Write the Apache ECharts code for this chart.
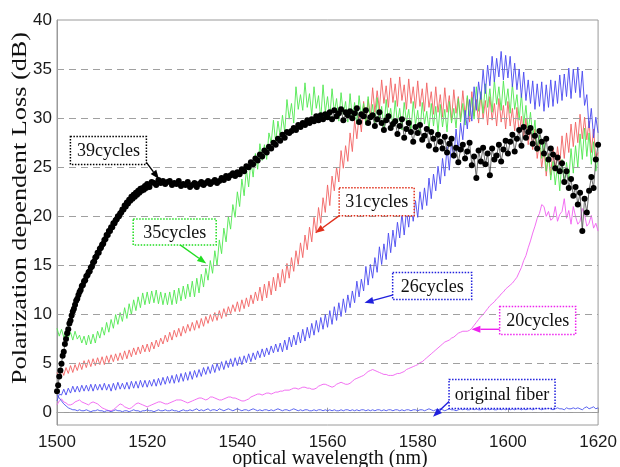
<!DOCTYPE html>
<html><head><meta charset="utf-8">
<script src="https://cdn.jsdelivr.net/npm/echarts@6/dist/echarts.min.js"></script>
<style>html,body{margin:0;padding:0;background:#fff}#c{width:620px;height:467px}</style>
</head><body><div id="c"></div>
<script>
// wavelength sampling grid (nm)
const wlStart = 1500, wlStep = 0.5;
const riseStart = 1500, riseStep = 0.25;   // finer sampling of the 39-cycle rise
const plateauStart = 1520;
const xTicks = [1500, 1520, 1540, 1560, 1580, 1600, 1620];
const yTicks = [0, 5, 10, 15, 20, 25, 30, 35, 40];

// PDL (dB) sampled every 0.5 nm from 1500 to 1620
const pdl35 = [8.6,7.8,8.5,7.7,8.4,7.6,8.2,7.4,8.3,7.5,
7.9,7.1,7.8,6.9,7.9,7.0,8.0,7.1,8.3,7.6,
8.7,7.9,9.2,8.2,9.5,8.6,10.0,9.0,10.2,9.3,
10.7,9.6,11.1,10.0,11.5,10.4,11.8,10.7,12.2,11.0,
12.3,11.1,12.4,11.2,12.5,11.1,12.3,11.0,12.2,11.0,
12.3,11.0,12.5,11.1,12.7,11.4,12.9,11.6,13.1,11.8,
13.4,11.8,13.7,12.2,14.1,12.8,14.7,13.5,15.5,14.2,
16.5,15.0,17.6,16.2,18.8,17.4,20.0,18.7,21.2,19.9,
22.5,21.0,23.8,22.1,24.8,23.0,25.7,24.0,26.4,24.8,
27.4,25.7,27.3,25.8,28.5,27.5,29.8,27.5,29.7,28.1,
30.3,28.6,31.9,29.9,31.5,29.5,33.2,30.9,32.4,30.8,
33.6,31.1,32.5,30.3,33.2,31.0,32.3,29.9,33.4,30.6,
32.2,30.1,33.0,30.6,32.0,29.7,32.6,30.4,31.7,29.6,
32.5,29.9,31.6,29.4,32.3,30.2,31.5,29.3,32.2,29.8,
31.4,29.2,32.1,29.9,31.2,28.9,31.9,29.7,31.0,29.1,
31.8,29.5,31.0,28.8,31.6,29.6,30.9,28.7,31.7,29.3,
30.8,28.6,31.6,29.4,30.7,28.8,31.5,29.2,31.2,28.5,
31.4,29.1,30.9,28.6,31.7,29.5,31.0,29.0,32.0,29.6,
31.5,29.3,32.3,30.2,32.1,29.9,33.2,30.7,32.7,30.5,
33.5,31.1,33.0,30.6,33.9,31.4,33.2,30.8,33.8,31.3,
33.0,30.5,33.5,30.9,32.4,29.8,32.5,29.4,31.3,28.6,
30.6,28.0,29.8,26.6,28.3,25.9,27.8,24.6,26.3,23.7,
25.6,23.2,25.2,22.6,25.8,23.4,25.5,23.7,26.9,24.4,
27.2,25.0,28.4,25.8,29.0,26.1,28.5,25.3,27.6,24.6,
26.0];

const pdl31 = [4.1,3.5,4.4,3.8,4.6,4.0,4.8,4.1,4.9,4.3,
5.1,4.4,5.3,4.6,5.4,4.7,5.5,4.8,5.6,4.9,
5.7,4.9,5.8,5.1,5.9,5.2,6.0,5.3,6.1,5.4,
6.3,5.5,6.4,5.7,6.6,5.9,6.7,6.0,6.9,6.2,
7.0,6.2,7.2,6.5,7.4,6.7,7.6,7.0,7.9,7.2,
8.2,7.4,8.4,7.7,8.6,7.8,8.8,8.1,9.0,8.3,
9.2,8.4,9.4,8.6,9.6,8.8,9.8,9.1,10.0,9.3,
10.2,9.4,10.4,9.6,10.6,9.8,10.8,10.1,11.0,10.3,
11.3,10.3,11.5,10.6,11.7,10.8,12.0,11.1,12.3,11.4,
12.8,11.4,13.1,11.7,13.4,12.0,13.8,12.4,14.2,12.8,
14.6,13.2,15.2,13.7,15.8,14.4,16.5,15.1,17.3,15.8,
18.1,16.6,18.9,17.4,19.9,18.3,20.9,19.3,21.9,20.4,
23.2,21.1,24.1,22.6,25.0,23.5,26.7,24.9,27.2,25.6,
28.5,26.6,29.8,27.9,30.3,28.6,31.7,29.4,31.9,30.1,
33.1,30.6,32.8,30.9,33.9,31.5,33.3,31.1,34.1,31.6,
33.5,31.2,34.2,31.8,33.4,30.9,34.0,31.5,33.2,31.0,
33.8,31.2,33.0,30.7,33.6,31.1,32.7,30.4,33.2,30.6,
32.4,30.1,33.1,30.6,32.3,29.8,32.9,30.5,32.2,29.9,
32.8,30.3,32.1,29.6,32.7,30.2,31.9,29.5,32.5,29.9,
31.8,29.3,32.2,29.8,31.5,29.2,32.0,29.6,31.3,28.9,
31.7,29.2,31.0,28.7,31.1,28.4,30.2,28.0,30.0,27.3,
29.1,26.8,28.9,25.9,27.6,24.9,26.9,24.1,26.4,24.2,
26.9,24.6,27.1,25.3,28.2,25.9,28.5,26.5,29.4,27.1,
29.6,27.5,30.4,27.9,30.1,27.8,29.7,26.5,28.9,25.8,
26.5];

const pdl26 = [1.2,1.9,1.8,2.4,1.8,2.5,2.0,2.7,2.1,2.7,
2.1,2.8,2.2,2.8,2.2,2.9,2.2,2.9,2.3,2.9,
2.3,3.0,2.3,2.9,2.2,3.0,2.3,3.1,2.4,3.0,
2.4,3.1,2.4,3.2,2.5,3.2,2.5,3.3,2.6,3.3,
2.6,3.3,2.7,3.4,2.7,3.5,2.8,3.6,2.9,3.7,
3.0,3.8,3.0,3.9,3.1,4.0,3.2,4.1,3.3,4.2,
3.4,4.3,3.6,4.4,3.7,4.6,3.9,4.7,4.0,4.9,
4.1,5.0,4.3,5.2,4.4,5.3,4.6,5.5,4.7,5.6,
4.8,5.7,4.9,5.8,5.1,6.0,5.2,6.1,5.4,6.3,
5.6,6.5,5.7,6.6,5.9,6.8,6.1,7.0,6.2,7.1,
6.2,7.4,6.4,7.7,6.7,7.9,6.9,8.2,7.1,8.5,
7.3,8.7,7.6,9.1,7.9,9.4,8.2,9.7,8.5,10.0,
8.7,10.4,9.0,10.8,9.4,11.2,9.8,11.6,10.2,12.0,
10.7,12.4,11.2,13.4,11.8,13.6,12.4,14.9,13.0,15.1,
13.7,15.8,14.3,16.9,15.1,17.2,15.6,18.3,16.3,18.6,
16.9,19.4,17.8,20.3,18.1,20.6,18.9,21.4,19.5,21.6,
19.9,22.5,20.7,22.9,21.1,23.9,21.8,24.3,22.6,25.1,
23.3,25.9,24.1,27.1,24.7,27.6,25.9,28.9,26.6,29.5,
27.8,30.8,28.9,31.9,29.7,33.2,30.8,33.7,31.9,34.9,
32.5,35.4,33.3,36.3,33.7,36.1,34.2,36.8,33.9,36.4,
34.1,36.3,33.2,35.6,32.9,35.0,32.1,34.7,31.8,33.9,
31.5,33.8,30.9,33.5,31.2,33.7,30.7,33.4,31.1,33.9,
31.2,33.8,31.5,34.4,31.8,34.5,32.2,35.1,32.0,35.0,
32.6,35.2,32.1,34.8,31.3,32.4,29.0,31.0,28.0,30.1,
28.5];

const pdl20 = [0.8,1.2,1.4,1.1,1.0,0.8,0.8,0.9,1.1,1.2,
1.3,1.1,1.0,0.9,0.8,1.0,1.1,1.0,0.9,0.7,
0.5,0.4,0.3,0.2,0.2,0.3,0.5,0.7,0.9,0.8,
0.6,0.5,0.4,0.5,0.7,0.9,1.0,0.9,0.8,0.7,
0.6,0.7,0.8,0.9,1.0,1.1,1.1,1.0,0.9,0.9,
1.0,1.1,1.2,1.3,1.3,1.3,1.2,1.1,1.0,1.1,
1.2,1.3,1.4,1.5,1.5,1.4,1.3,1.4,1.6,1.6,
1.5,1.4,1.3,1.3,1.4,1.5,1.6,1.6,1.5,1.5,
1.4,1.3,1.2,1.2,1.3,1.4,1.6,1.7,1.8,1.9,
1.9,1.8,1.9,2.0,2.0,1.9,2.0,2.1,2.1,2.2,
2.2,2.3,2.3,2.3,2.4,2.5,2.5,2.4,2.5,2.6,
2.6,2.5,2.5,2.4,2.4,2.5,2.7,2.8,2.9,2.9,
2.8,2.7,2.6,2.7,2.9,3.0,3.1,3.0,2.9,2.9,
3.0,3.2,3.4,3.5,3.6,3.7,3.8,4.0,4.2,4.3,
4.4,4.3,4.2,4.1,4.0,3.9,3.9,3.8,3.8,3.8,
3.9,4.0,4.0,4.1,4.2,4.4,4.5,4.6,4.7,4.8,
4.9,5.1,5.2,5.4,5.6,5.8,6.0,6.2,6.4,6.6,
6.8,7.0,7.2,7.3,7.4,7.6,7.7,7.9,8.1,8.2,
8.3,8.3,8.3,8.4,8.6,8.9,9.2,9.5,9.8,10.0,
10.3,10.6,10.9,11.1,11.3,11.6,11.8,12.1,12.3,12.6,
12.8,13.0,13.2,13.5,13.8,14.3,14.8,15.5,16.0,16.8,
17.5,18.3,19.0,19.8,20.3,21.2,21.0,20.0,20.5,19.6,
19.8,21.0,19.5,20.2,20.5,21.8,19.8,20.6,19.2,21.0,
20.0,19.2,19.5,20.8,20.2,19.0,19.3,20.1,18.8,19.3,
18.5];

const pdlOriginal = [1.8,1.5,1.2,0.9,0.7,0.5,0.4,0.3,0.3,0.2,
0.3,0.2,0.2,0.3,0.2,0.1,0.2,0.2,0.3,0.2,
0.2,0.1,0.2,0.2,0.1,0.2,0.3,0.2,0.2,0.1,
0.2,0.2,0.1,0.2,0.3,0.2,0.2,0.1,0.2,0.2,
0.3,0.2,0.2,0.1,0.2,0.3,0.2,0.2,0.3,0.2,
0.2,0.3,0.2,0.2,0.1,0.2,0.3,0.2,0.2,0.3,
0.2,0.3,0.4,0.2,0.3,0.2,0.3,0.4,0.2,0.3,
0.3,0.2,0.4,0.3,0.2,0.3,0.4,0.3,0.2,0.3,
0.4,0.3,0.2,0.3,0.3,0.2,0.3,0.4,0.3,0.2,
0.3,0.2,0.3,0.3,0.2,0.3,0.2,0.3,0.4,0.3,
0.2,0.3,0.3,0.2,0.3,0.4,0.3,0.2,0.3,0.2,
0.3,0.3,0.2,0.2,0.3,0.2,0.3,0.3,0.2,0.3,
0.2,0.3,0.2,0.3,0.2,0.2,0.3,0.2,0.3,0.3,
0.2,0.3,0.2,0.3,0.2,0.3,0.3,0.2,0.3,0.2,
0.3,0.2,0.3,0.3,0.2,0.3,0.2,0.3,0.3,0.2,
0.3,0.3,0.2,0.3,0.2,0.3,0.3,0.2,0.3,0.3,
0.2,0.3,0.3,0.2,0.3,0.4,0.3,0.2,0.3,0.3,
0.4,0.3,0.2,0.3,0.4,0.3,0.3,0.2,0.3,0.4,
0.3,0.4,0.3,0.3,0.4,0.3,0.4,0.3,0.3,0.4,
0.3,0.4,0.3,0.4,0.3,0.3,0.4,0.3,0.4,0.3,
0.4,0.3,0.4,0.3,0.4,0.4,0.3,0.4,0.3,0.4,
0.4,0.3,0.4,0.5,0.4,0.3,0.4,0.4,0.5,0.4,
0.3,0.4,0.5,0.4,0.4,0.3,0.5,0.4,0.4,0.5,
0.4,0.5,0.4,0.3,0.5,0.6,0.4,0.5,0.6,0.4,
0.5];

// 39 cycles: rise sampled every 0.25 nm (1500 - 1519.75)
const pdl39Rise = [2.2,2.8,3.7,4.3,5.0,5.8,6.2,7.0,7.5,8.1,8.5,9.1,9.4,9.9,10.3,10.6,11.0,11.4,11.6,12.0,
12.3,12.5,12.9,13.0,13.4,13.5,13.9,14.0,14.3,14.4,14.8,14.9,15.3,15.4,15.8,15.9,16.3,16.3,16.7,16.8,
17.1,17.2,17.6,17.7,18.1,18.1,18.5,18.5,18.9,18.9,19.3,19.3,19.6,19.7,20.0,20.0,20.3,20.4,20.7,20.7,
21.1,21.0,21.4,21.3,21.7,21.6,22.0,21.8,22.2,22.0,22.4,22.2,22.6,22.4,22.8,22.6,22.9,22.7,23.1,22.9];
// 39 cycles: plateau and beyond, sampled every 0.5 nm (1520 - 1620)
const pdl39 = [23.3,23.0,23.5,23.4,23.2,23.7,23.4,23.6,23.3,23.5,
23.6,23.2,23.4,23.3,23.6,23.1,23.3,23.2,23.5,23.0,
23.2,23.4,23.0,23.3,23.5,23.2,23.4,23.6,23.3,23.5,
23.7,23.4,23.6,23.9,23.7,24.1,23.9,24.2,24.4,24.1,
24.5,24.3,24.8,24.6,25.1,25.0,25.5,25.3,25.9,25.7,
26.3,26.1,26.7,26.5,27.1,26.9,27.5,27.3,27.9,27.7,
28.3,28.0,28.6,28.5,28.7,29.0,28.8,29.3,29.1,29.5,
29.3,29.8,29.5,29.9,29.7,30.2,29.8,30.3,29.9,30.4,
30.1,30.6,29.9,30.8,30.2,30.5,30.9,29.8,30.6,30.3,
30.7,30.0,30.5,31.0,29.6,30.4,30.2,30.8,29.5,30.1,
30.3,29.2,29.9,30.6,29.5,28.8,29.8,30.2,29.0,29.4,
29.7,28.4,29.2,29.9,28.0,28.9,29.5,28.6,27.6,29.1,
28.5,29.3,27.8,28.2,28.9,27.2,28.6,27.9,26.8,28.3,
27.6,26.9,28.1,26.5,27.4,27.9,26.2,27.0,25.5,26.8,
27.3,25.9,26.6,27.5,25.2,26.1,23.9,26.7,25.6,27.0,
25.3,26.4,24.2,26.9,25.8,26.2,27.3,25.6,26.8,27.7,
26.4,27.6,28.3,26.6,27.9,28.8,27.2,29.1,28.0,28.6,
29.0,27.4,28.2,26.9,28.7,27.6,26.4,27.9,25.8,26.9,
26.3,24.9,26.0,24.6,25.4,23.5,24.6,22.9,23.8,22.1,
23.0,21.2,22.4,18.5,21.8,20.4,22.6,24.0,22.9,25.8,
27.3];

// annotations: label, colour, box centre (nm, dB), arrow start, arrow tip
const annotations = [
  {text: '39cycles', color: '#000000', box: [1511.4, 26.7], from: [1519.3, 25.8], to: [1522.6, 23.8], w: 76, h: 28},
  {text: '35cycles', color: '#22dd22', box: [1526.1, 18.4], from: [1527.0, 17.2], to: [1533.1, 15.2], w: 83, h: 26},
  {text: '31cycles', color: '#e0301c', box: [1570.9, 21.5], from: [1562.7, 20.1], to: [1557.3, 18.3], w: 75, h: 28},
  {text: '26cycles', color: '#2020dd', box: [1583.2, 12.9], from: [1574.6, 12.0], to: [1568.2, 11.2], w: 79, h: 27},
  {text: '20cycles', color: '#ee22ee', box: [1606.6, 9.4], from: [1598.5, 8.5], to: [1591.9, 8.5], w: 76, h: 28},
  {text: 'original fiber', color: '#2020dd', box: [1598.7, 1.9], from: [1587.3, 1.3], to: [1583.4, -0.4], w: 106, h: 29}
];

function toPairs(vals, start, step) {
  return vals.map((v, i) => [start + i * step, v]);
}
const black = toPairs(pdl39Rise, riseStart, riseStep).concat(toPairs(pdl39, plateauStart, wlStep));

const chart = echarts.init(document.getElementById('c'), null, {renderer: 'canvas'});

function lineSeries(name, vals, color, z) {
  return {
    name, type: 'line', data: toPairs(vals, wlStart, wlStep), showSymbol: false, symbol: 'none',
    lineStyle: {color, width: 0.9}, z, animation: false, silent: true
  };
}

const option = {
  animation: false,
  backgroundColor: '#fff',
  grid: {left: 57, right: 18, top: 20, bottom: 42, show: true, borderColor: '#9a9a9a', borderWidth: 1},
  xAxis: {
    type: 'value', min: xTicks[0], max: xTicks[xTicks.length - 1], interval: xTicks[1] - xTicks[0],
    axisLine: {show: true, lineStyle: {color: '#9a9a9a'}},
    axisTick: {show: true, inside: true, length: 5, lineStyle: {color: '#9a9a9a'}},
    axisLabel: {color: '#1a1a1a', fontSize: 17, fontFamily: 'Liberation Sans', margin: 9,
      formatter: v => String(v)},
    splitLine: {show: false}
  },
  yAxis: {
    type: 'value', min: -1.25, max: yTicks[yTicks.length - 1], interval: 1.25,
    axisLine: {show: true, lineStyle: {color: '#9a9a9a'}},
    axisTick: {show: false},
    axisLabel: {color: '#1a1a1a', fontSize: 17, fontFamily: 'Liberation Sans', margin: 5,
      formatter: v => (yTicks.indexOf(Math.round(v * 100) / 100) >= 0 ? String(Math.round(v)) : '')},
    splitLine: {show: false}
  },
  series: [
    {
      type: 'line', data: [], z: 1, silent: true,
      markLine: {
        silent: true, symbol: 'none', animation: false,
        label: {show: false},
        lineStyle: {color: '#a0a0a0', width: 1, type: [7, 5]},
        data: yTicks.filter(v => v < 40).map(v => ({yAxis: v}))
      }
    },
    lineSeries('20cycles', pdl20, '#f060f0', 2),
    lineSeries('original fiber', pdlOriginal, '#4a55ee', 2),
    lineSeries('31cycles', pdl31, '#f26262', 3),
    lineSeries('35cycles', pdl35, '#4fe84f', 4),
    lineSeries('26cycles', pdl26, '#4848f0', 5),
    {
      name: '39cycles line', type: 'line', data: black, z: 6, silent: true,
      showSymbol: false, symbol: 'none',
      lineStyle: {color: '#444', width: 0.8}
    },
    {
      name: '39cycles', type: 'scatter', data: black, z: 7, silent: true,
      symbol: 'circle', symbolSize: 6, large: false,
      itemStyle: {color: '#000', opacity: 1}
    }
  ]
};
chart.setOption(option);

const els = [];
annotations.forEach(a => {
  const c = chart.convertToPixel({gridIndex: 0}, a.box);
  const p1 = chart.convertToPixel({gridIndex: 0}, a.from);
  const p2 = chart.convertToPixel({gridIndex: 0}, a.to);
  const ang = Math.atan2(p2[1] - p1[1], p2[0] - p1[0]);
  const L = 9, W = 3.5;
  const bx = p2[0] - L * Math.cos(ang), by = p2[1] - L * Math.sin(ang);
  els.push({type: 'line', z: 100, shape: {x1: p1[0], y1: p1[1], x2: bx, y2: by}, style: {stroke: a.color, lineWidth: 1.4}});
  els.push({type: 'polygon', z: 100, shape: {points: [
    [p2[0], p2[1]],
    [bx + W * Math.sin(ang), by - W * Math.cos(ang)],
    [bx - W * Math.sin(ang), by + W * Math.cos(ang)]
  ]}, style: {fill: a.color}});
  els.push({type: 'rect', z: 101, shape: {x: c[0] - a.w / 2, y: c[1] - a.h / 2, width: a.w, height: a.h},
    style: {fill: '#fff', stroke: a.color, lineWidth: 1.5, lineDash: [1.5, 1.5]}});
  els.push({type: 'text', z: 102, x: c[0], y: c[1] + 1,
    style: {text: a.text, fill: '#111', fontSize: 18, fontFamily: 'Liberation Serif', align: 'center', verticalAlign: 'middle'}});
});
// axis titles
els.push({type: 'text', z: 100, x: 330, y: 459,
  style: {text: 'optical wavelength (nm)', fill: '#111', fontSize: 20, fontFamily: 'Liberation Serif', align: 'center', verticalAlign: 'middle'}});
els.push({type: 'text', z: 100, x: 20, y: 208, rotation: Math.PI / 2, scaleX: 1.25,
  style: {text: 'Polarization dependent Loss (dB)', fill: '#111', fontSize: 21, fontFamily: 'Liberation Serif', align: 'center', verticalAlign: 'middle'}});
chart.setOption({graphic: {elements: els}});
</script>
</body></html>
